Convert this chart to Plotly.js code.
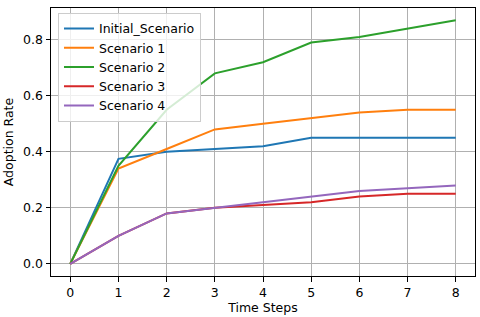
<!DOCTYPE html>
<html>
<head>
<meta charset="utf-8">
<script src="https://cdn.plot.ly/plotly-3.0.1.min.js"></script>
<style>html,body{margin:0;padding:0;background:#fff;}#chart{width:480px;height:317px;}</style>
</head>
<body>
<div id="chart"></div>
<script>
const timeSteps = [0, 1, 2, 3, 4, 5, 6, 7, 8];
const seriesNames = ["Initial_Scenario", "Scenario 1", "Scenario 2", "Scenario 3", "Scenario 4"];
const initialScenario = [0, 0.375, 0.40, 0.41, 0.42, 0.45, 0.45, 0.45, 0.45];
const scenario1 = [0, 0.34, 0.41, 0.48, 0.50, 0.52, 0.54, 0.55, 0.55];
const scenario2 = [0, 0.35, 0.55, 0.68, 0.72, 0.79, 0.81, 0.84, 0.87];
const scenario3 = [0, 0.10, 0.18, 0.20, 0.21, 0.22, 0.24, 0.25, 0.25];
const scenario4 = [0, 0.10, 0.18, 0.20, 0.22, 0.24, 0.26, 0.27, 0.28];
const xTickVals = [0, 1, 2, 3, 4, 5, 6, 7, 8];
const yTickVals = [0, 0.2, 0.4, 0.6, 0.8];
const yTickText = ["0.0", "0.2", "0.4", "0.6", "0.8"];

const colors = ["#1f77b4", "#ff7f0e", "#2ca02c", "#d62728", "#9467bd"];
const allSeries = [initialScenario, scenario1, scenario2, scenario3, scenario4];

const traces = allSeries.map((ys, i) => ({
  x: timeSteps,
  y: ys,
  name: seriesNames[i],
  type: "scatter",
  mode: "lines",
  line: {color: colors[i], width: 2}
}));

const font = {family: "DejaVu Sans", size: 12.5, color: "#000"};

const layout = {
  width: 480,
  height: 317,
  margin: {l: 51, r: 5, t: 8, b: 41},
  paper_bgcolor: "#fff",
  plot_bgcolor: "#fff",
  font: font,
  showlegend: true,
  legend: {
    x: 0.0165, y: 0.982, xanchor: "left", yanchor: "top",
    bgcolor: "rgba(255,255,255,0.8)",
    bordercolor: "#cccccc", borderwidth: 1,
    font: font,
    tracegroupgap: 0
  },
  xaxis: {
    range: [-0.4, 8.4],
    tickmode: "array", tickvals: xTickVals,
    ticks: "outside", ticklen: 4.5, tickwidth: 1, tickcolor: "#000",
    showgrid: true, gridcolor: "#b0b0b0", gridwidth: 1,
    zeroline: false,
    showline: true, linecolor: "#000", linewidth: 1, mirror: true,
    title: {text: "Time Steps", font: font, standoff: 1}
  },
  yaxis: {
    range: [-0.0435, 0.9135],
    tickmode: "array", tickvals: yTickVals, ticktext: yTickText,
    ticks: "outside", ticklen: 4.5, tickwidth: 1, tickcolor: "#000",
    showgrid: true, gridcolor: "#b0b0b0", gridwidth: 1,
    zeroline: false,
    showline: true, linecolor: "#000", linewidth: 1, mirror: true,
    title: {text: "Adoption Rate", font: font, standoff: 6}
  }
};

Plotly.newPlot("chart", traces, layout, {staticPlot: true, displayModeBar: false});
</script>
</body>
</html>
